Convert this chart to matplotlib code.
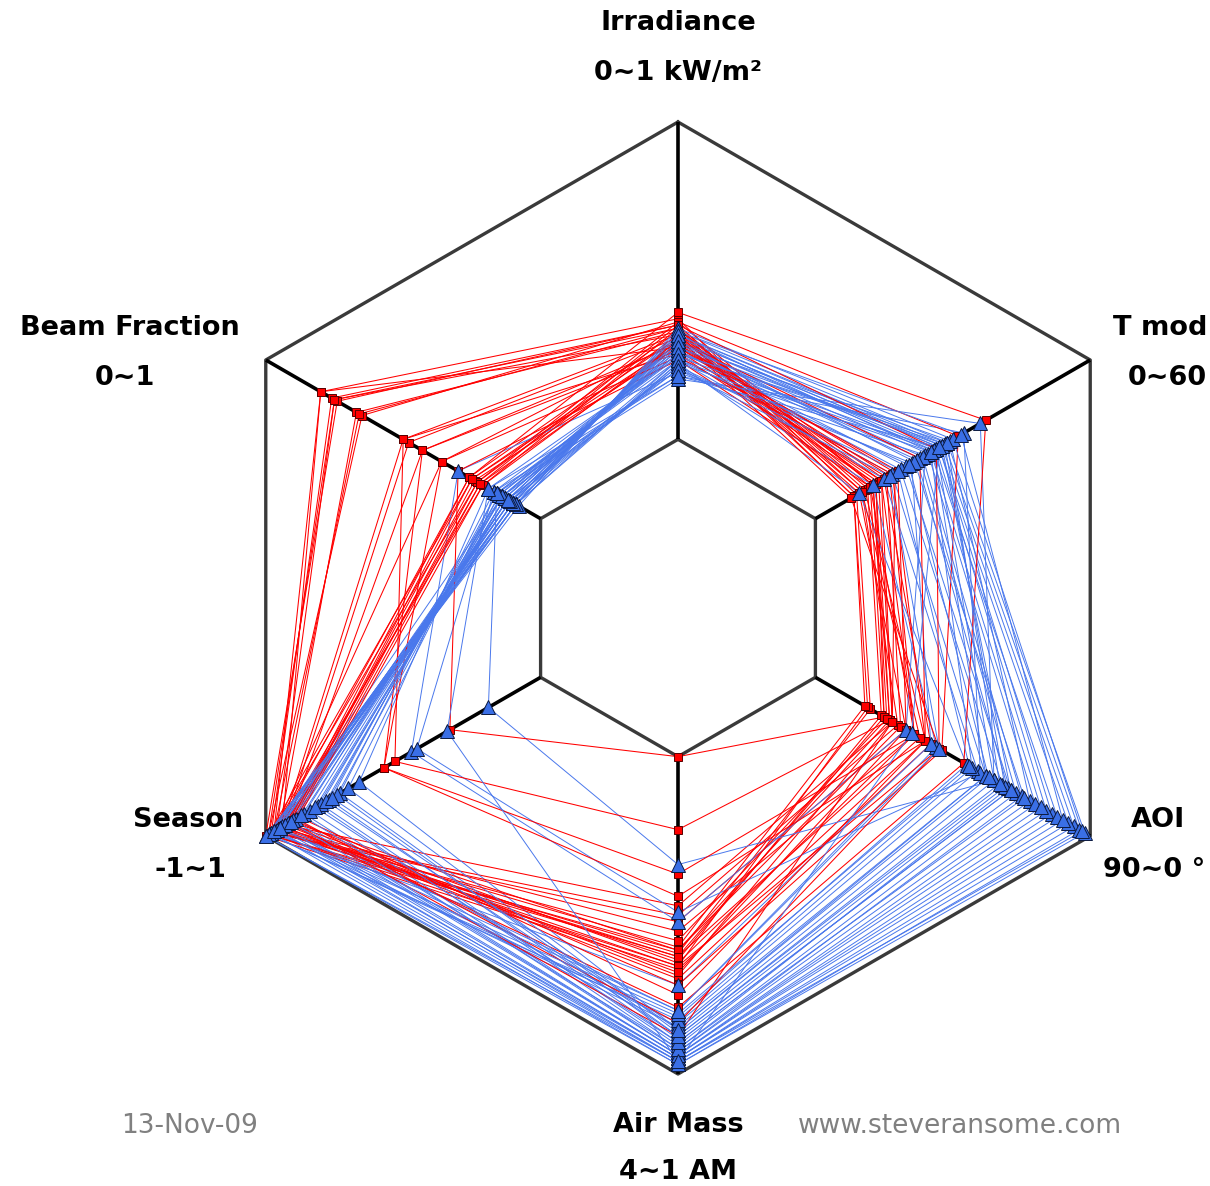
import numpy as np
import matplotlib
matplotlib.use("Agg")
import matplotlib.pyplot as plt

# Axis order (clockwise from top)
axes_names = ["Irradiance", "T mod", "AOI", "Air Mass", "Season", "Beam Fraction"]
axes_ranges = ["0~1 kW/m²", "0~60", "90~0 °", "4~1 AM", "-1~1", "0~1"]

# Red series (normalised 0..1 per axis)
red_irr = [0.38, 0.36, 0.35, 0.34, 0.37, 0.33, 0.32, 0.30, 0.31, 0.36, 0.34, 0.33, 0.35, 0.32,
           0.30, 0.29, 0.25, 0.27, 0.28, 0.26, 0.40, 0.37, 0.31, 0.29, 0.35, 0.33, 0.30, 0.36]
red_tmod = [0.15, 0.17, 0.14, 0.20, 0.21, 0.25, 0.24, 0.27, 0.22, 0.18, 0.14, 0.16, 0.19, 0.13,
            0.23, 0.26, 0.20, 0.22, 0.24, 0.28, 0.62, 0.52, 0.38, 0.30, 0.21, 0.17, 0.29, 0.44]
red_aoi = [0.20, 0.30, 0.19, 0.36, 0.27, 0.42, 0.28, 0.36, 0.25, 0.40, 0.18, 0.33, 0.24, 0.45,
           0.28, 0.31, 0.25, 0.27, 0.36, 0.40, 0.54, 0.46, 0.40, 0.33, 0.26, 0.38, 0.28, 0.45]
red_am = [0.62, 0.50, 0.66, 0.55, 0.61, 0.70, 0.47, 0.65, 0.63, 0.67, 0.60, 0.52, 0.64, 0.66,
          0.69, 0.61, 0.00, 0.23, 0.37, 0.44, 0.79, 0.72, 0.75, 0.68, 0.58, 0.63, 0.88, 0.84]
red_season = [0.97, 0.98, 0.96, 0.95, 0.99, 0.94, 0.93, 0.92, 0.97, 1.00, 0.96, 0.98, 0.95, 0.99,
              0.93, 0.91, 0.33, 0.53, 0.57, 0.57, 0.92, 0.90, 0.88, 0.94, 0.97, 0.99, 0.91, 0.89]
red_beam = [0.80, 0.76, 0.75, 0.67, 0.65, 0.50, 0.48, 0.43, 0.36, 0.74, 0.26, 0.23, 0.21, 0.25,
            0.22, 0.24, 0.30, 0.50, 0.43, 0.36, 0.26, 0.23, 0.21, 0.80, 0.66, 0.75, 0.25, 0.22]

# Blue series
blue_irr = [0.34, 0.33, 0.32, 0.31, 0.30, 0.29, 0.28, 0.27, 0.26, 0.25, 0.24, 0.23, 0.22, 0.21,
            0.20, 0.19, 0.33, 0.32, 0.31, 0.30, 0.29, 0.28, 0.27, 0.26, 0.25, 0.24, 0.35, 0.34,
            0.33, 0.31, 0.29, 0.27, 0.25, 0.23, 0.22, 0.20]
blue_tmod = [0.48, 0.46, 0.45, 0.44, 0.49, 0.38, 0.33, 0.31, 0.28, 0.25, 0.16, 0.21, 0.35, 0.40,
             0.54, 0.60, 0.47, 0.45, 0.43, 0.41, 0.39, 0.37, 0.47, 0.44, 0.43, 0.42, 0.50, 0.53,
             0.42, 0.36, 0.46, 0.48, 0.34, 0.30, 0.27, 0.45]
blue_aoi = [0.98, 0.94, 0.86, 0.84, 0.78, 0.73, 0.71, 0.68, 0.62, 0.59, 0.55, 0.44, 0.42, 0.33,
            0.60, 0.65, 0.96, 0.92, 0.88, 0.80, 0.75, 0.70, 0.69, 0.65, 0.62, 0.57, 0.97, 0.90,
            0.82, 0.76, 0.71, 0.67, 0.63, 0.56, 0.45, 0.35]
blue_am = [0.97, 0.96, 0.95, 0.94, 0.93, 0.92, 0.90, 0.88, 0.86, 0.84, 0.82, 0.80, 0.72, 0.52,
           0.49, 0.34, 0.97, 0.96, 0.95, 0.94, 0.93, 0.91, 0.89, 0.87, 0.85, 0.83, 0.96, 0.95,
           0.94, 0.92, 0.90, 0.88, 0.86, 0.81, 0.80, 0.96]
blue_season = [1.00, 0.97, 0.94, 0.89, 0.86, 0.81, 0.77, 0.73, 0.66, 0.95, 0.99, 0.92, 0.98, 0.47,
               0.45, 0.19, 0.98, 0.95, 0.93, 0.90, 0.84, 0.80, 0.74, 0.70, 0.97, 0.99, 1.00, 0.96,
               0.91, 0.87, 0.82, 0.78, 0.76, 0.97, 0.95, 0.34]
blue_beam = [0.09, 0.10, 0.11, 0.12, 0.14, 0.13, 0.15, 0.17, 0.19, 0.09, 0.10, 0.12, 0.14, 0.30,
             0.17, 0.16, 0.09, 0.10, 0.11, 0.12, 0.13, 0.14, 0.15, 0.16, 0.11, 0.09, 0.08, 0.09,
             0.10, 0.12, 0.13, 0.14, 0.16, 0.11, 0.12, 0.19]

red = np.array([red_irr, red_tmod, red_aoi, red_am, red_season, red_beam]).T
blue = np.array([blue_irr, blue_tmod, blue_aoi, blue_am, blue_season, blue_beam]).T

W, H = 1210, 1186
fig = plt.figure(figsize=(W / 100, H / 100), dpi=100)
cx, cy, R = 678, 598, 476
ax = fig.add_axes([(cx - R) / W, (H - cy - R) / H, 2 * R / W, 2 * R / H], projection="polar")
ax.set_theta_offset(np.pi / 2)
ax.set_theta_direction(-1)
ax.set_ylim(-0.5, 1.0)
ax.grid(False)
ax.set_xticks([])
ax.set_yticks([])
ax.spines["polar"].set_visible(False)
ax.patch.set_alpha(0)

theta = np.deg2rad(np.arange(6) * 60)
th_closed = np.append(theta, theta[0])

# hexagon frame and inner grid
ax.plot(th_closed, np.ones(7), color="#3a3a3a", lw=2.4, zorder=1, clip_on=False)
ax.plot(th_closed, np.zeros(7), color="#3a3a3a", lw=2.4, zorder=1)
for t in theta:
    ax.plot([t, t], [0, 1], color="black", lw=2.6, zorder=1, solid_capstyle="butt")

# polygons, interleaved so neither colour fully covers the other
n = max(len(red), len(blue))
for i in range(n):
    if i < len(red):
        ax.plot(th_closed, np.append(red[i], red[i][0]), color="#ff0000", lw=0.75, zorder=2)
    if i < len(blue):
        ax.plot(th_closed, np.append(blue[i], blue[i][0]), color="#4a78ec", lw=0.7, zorder=2)

for row in red:
    ax.plot(theta, row, ls="none", marker="s", ms=5.5, mfc="#ff0000", mec="#5a0000",
            mew=0.7, zorder=3, clip_on=False)
for row in blue:
    ax.plot(theta, row, ls="none", marker="^", ms=10, mfc="#3a6fe6", mec="#0c1a40",
            mew=0.7, zorder=4, clip_on=False)

font = dict(family="DejaVu Sans", fontweight="bold", fontsize=19.5, color="black")


def put(x, y, s, ha="center", **kw):
    fig.text(x / W, 1 - y / H, s, ha=ha, va="center", **kw)


label_pos = [
    ((678, 23), (678, 73), "center"),
    ((1207, 328), (1207, 378), "right"),
    ((1158, 820), (1154, 870), "center"),
    ((678, 1125), (678, 1172), "center"),
    ((188, 820), (190, 870), "center"),
    ((130, 328), (125, 378), "center"),
]
for name, rng, (p1, p2, ha) in zip(axes_names, axes_ranges, label_pos):
    put(p1[0], p1[1], name, ha=ha, **font)
    put(p2[0], p2[1], rng, ha=ha, **font)

gray = dict(family="DejaVu Sans", fontsize=19, color="#808080")
put(190, 1126, "13-Nov-09", **gray)
put(960, 1126, "www.steveransome.com", **gray)

fig.savefig("out.png", dpi=100)
